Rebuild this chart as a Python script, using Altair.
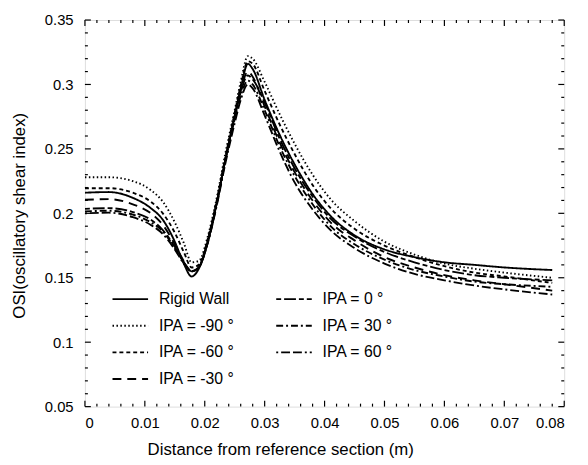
import altair as alt
import pandas as pd

# ---- data ----
x_grid = [0, 0.004, 0.008, 0.011, 0.013, 0.015, 0.0165, 0.0178, 0.019, 0.0205, 0.022, 0.0235,
          0.025, 0.026, 0.0272, 0.028, 0.030, 0.0325, 0.035, 0.038, 0.041, 0.045, 0.050,
          0.055, 0.060, 0.065, 0.070, 0.078]

rigid = [0.216, 0.2165, 0.212, 0.204, 0.195, 0.178, 0.161, 0.151, 0.157, 0.178, 0.208, 0.243,
         0.276, 0.297, 0.316, 0.312, 0.288, 0.261, 0.238, 0.215, 0.198, 0.183, 0.172,
         0.166, 0.162, 0.160, 0.158, 0.156]
ipa_m90 = [0.228, 0.228, 0.225, 0.218, 0.209, 0.193, 0.177, 0.162, 0.163, 0.182, 0.212, 0.248,
           0.280, 0.302, 0.322, 0.320, 0.302, 0.277, 0.254, 0.230, 0.211, 0.194, 0.178,
           0.168, 0.161, 0.157, 0.154, 0.150]
ipa_m60 = [0.2195, 0.2195, 0.216, 0.209, 0.200, 0.185, 0.170, 0.158, 0.160, 0.180, 0.210, 0.245,
           0.278, 0.299, 0.318, 0.316, 0.295, 0.269, 0.246, 0.222, 0.204, 0.188, 0.175,
           0.166, 0.159, 0.154, 0.151, 0.146]
ipa_m30 = [0.2105, 0.211, 0.207, 0.200, 0.191, 0.176, 0.163, 0.155, 0.158, 0.178, 0.208, 0.243,
           0.275, 0.295, 0.310, 0.306, 0.283, 0.255, 0.232, 0.210, 0.193, 0.179, 0.166,
           0.158, 0.152, 0.148, 0.145, 0.140]
ipa_0 = [0.2035, 0.204, 0.201, 0.195, 0.187, 0.174, 0.162, 0.155, 0.158, 0.178, 0.208, 0.243,
         0.275, 0.294, 0.307, 0.304, 0.286, 0.258, 0.235, 0.213, 0.196, 0.182, 0.170,
         0.162, 0.156, 0.152, 0.150, 0.148]
ipa_30 = [0.2015, 0.202, 0.199, 0.193, 0.186, 0.173, 0.162, 0.155, 0.158, 0.177, 0.207, 0.242,
          0.273, 0.291, 0.303, 0.300, 0.280, 0.252, 0.229, 0.207, 0.190, 0.176, 0.164,
          0.156, 0.151, 0.147, 0.145, 0.143]
ipa_60 = [0.200, 0.2005, 0.197, 0.191, 0.184, 0.172, 0.161, 0.155, 0.158, 0.177, 0.206, 0.240,
          0.270, 0.288, 0.300, 0.297, 0.276, 0.248, 0.224, 0.203, 0.187, 0.173, 0.161,
          0.153, 0.148, 0.144, 0.141, 0.137]

series_names = ["Rigid Wall", "IPA = -90 °", "IPA = -60 °", "IPA = -30 °",
                "IPA =  0 °", "IPA =  30 °", "IPA =  60 °"]
series_values = [rigid, ipa_m90, ipa_m60, ipa_m30, ipa_0, ipa_30, ipa_60]
series_dashes = [[1, 0], [1.5, 2.5], [4, 3], [9, 6],
                 [5, 3, 12, 3], [7, 3, 2, 3], [2, 3, 9, 3, 9, 3]]

x_major = [0, 0.01, 0.02, 0.03, 0.04, 0.05, 0.06, 0.07, 0.08]
y_major = [0.05, 0.1, 0.15, 0.2, 0.25, 0.3, 0.35]
x_minor = [round(i * 0.002, 4) for i in range(41) if i % 5 != 0]
y_minor = [round(0.05 + i * 0.01, 4) for i in range(31) if i % 5 != 0]

rows = []
for name, vals in zip(series_names, series_values):
    for xv, yv in zip(x_grid, vals):
        rows.append({"x": xv, "y": yv, "series": name})
df = pd.DataFrame(rows)

W, H = 486, 392
FONT = "Liberation Sans"
XS = alt.Scale(domain=[0, 0.08], nice=False, zero=False)
YS = alt.Scale(domain=[0.05, 0.35], nice=False, zero=False)

X_AXIS = alt.Axis(
    values=x_major, format="~g", tickSize=0, domain=False, grid=False,
    labelPadding=9, labelFont=FONT, labelFontSize=15, labelColor="black",
    title="Distance from reference section  (m)", titleFont=FONT,
    titleFontSize=17, titleFontWeight="normal", titleColor="black",
    titleX=198, titleY=49, titleAlign="center", titleBaseline="alphabetic")
Y_AXIS = alt.Axis(
    values=y_major, format="~g", tickSize=0, domain=False, grid=False,
    labelPadding=12, labelFont=FONT, labelFontSize=15, labelColor="black",
    title="OSI(oscillatory shear index)", titleFont=FONT, titleFontSize=17,
    titleFontWeight="normal", titleColor="black",
    titleX=-66, titleY=198, titleAlign="center", titleBaseline="middle")

lines = alt.Chart(df).mark_line(
    color="black", strokeWidth=1.9, interpolate="monotone", clip=True
).encode(
    x=alt.X("x:Q", scale=XS, axis=X_AXIS),
    y=alt.Y("y:Q", scale=YS, axis=Y_AXIS),
    strokeDash=alt.StrokeDash("series:N", sort=series_names, scale=alt.Scale(
        domain=series_names, range=series_dashes),
        legend=alt.Legend(
            title=None, orient="none", legendX=27, legendY=264, columns=2,
            direction="vertical",
            symbolType="stroke", symbolSize=1300, symbolStrokeWidth=1.9,
            symbolStrokeColor="black", labelFont=FONT, labelFontSize=16,
            labelColor="black", labelOffset=10, rowPadding=-8, columnPadding=38,
            padding=0)),
)


def xticks(vals, length, bottom):
    d = pd.DataFrame({"x": vals})
    if bottom:
        y1, y2 = H, H - length
    else:
        y1, y2 = 0, length
    return alt.Chart(d).mark_rule(color="black", strokeWidth=1.2).encode(
        x=alt.X("x:Q", scale=XS, axis=X_AXIS),
        y=alt.value(y1), y2=alt.value(y2))


def yticks(vals, length, left):
    d = pd.DataFrame({"y": vals})
    if left:
        x1, x2 = 0, length
    else:
        x1, x2 = W, W - length
    return alt.Chart(d).mark_rule(color="black", strokeWidth=1.2).encode(
        y=alt.Y("y:Q", scale=YS, axis=Y_AXIS),
        x=alt.value(x1), x2=alt.value(x2))


chart = alt.layer(
    lines,
    xticks(x_major, 6, True), xticks(x_minor, 3, True),
    xticks(x_major, 6, False), xticks(x_minor, 3, False),
    yticks(y_major, 6, True), yticks(y_minor, 3, True),
    yticks(y_major, 6, False), yticks(y_minor, 3, False),
).properties(
    width=W, height=H, autosize="none",
    padding={"left": 78, "top": 9, "right": 16, "bottom": 56},
).configure_view(stroke="black", strokeWidth=1.5).configure(background="white")

chart.save("out.html", embed_options={"renderer": "svg", "actions": False})
